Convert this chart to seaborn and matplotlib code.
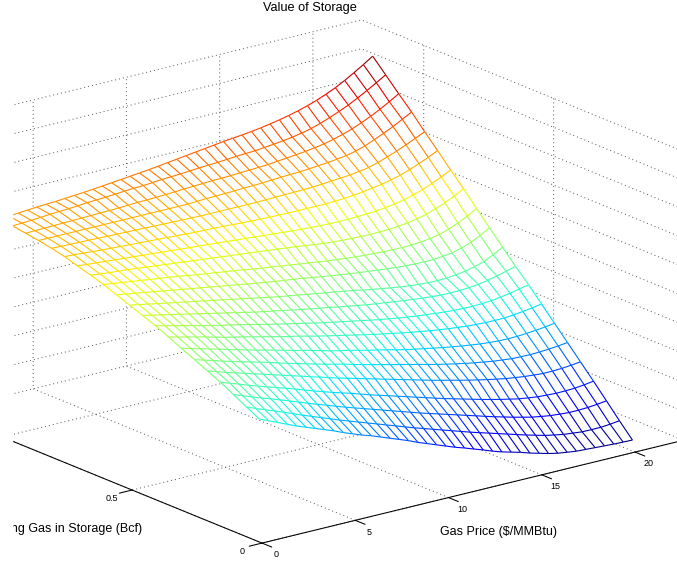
# value_of_storage_mesh.py

import numpy as np
import seaborn as sns
import matplotlib
matplotlib.use("Agg")
import matplotlib.pyplot as plt
from matplotlib.colors import Normalize
from matplotlib.patches import Rectangle
from mpl_toolkits.mplot3d.art3d import Line3DCollection

# Gas price ($/MMBtu), one entry per mesh column
gas_price = [0, 0.5, 1, 1.5, 2, 2.5, 3, 3.5, 4, 4.5, 5, 5.5, 6, 6.5, 7, 7.5, 8, 8.5, 9, 9.5, 10,
             10.5, 11, 11.5, 12, 12.5, 13, 13.5, 14, 14.5, 15, 15.5, 16, 16.5, 17, 17.5, 18, 18.5, 19, 19.5, 20]
# Remaining gas in storage (Bcf), one entry per mesh row
gas_storage = [0.01, 0.06, 0.11, 0.16, 0.21, 0.26, 0.31, 0.36, 0.41, 0.46, 0.51,
               0.56, 0.61, 0.66, 0.71, 0.76, 0.81, 0.86, 0.91, 0.96, 1.01]

# Value, one list per storage level
z_00 = [123,119,115,111,107,103.5,100,96.5,93,89,85.5,82,79,75.5,72,68.5,65,61,57.5,54,50.5,47,44,40.7,37.5,34,31,28.5,26,23,20.5,18,16,14.7,13.5,13,12.5,12,11.5,11.2,11]
z_01 = [130,126,122.5,119,115.5,111.7,108,104.5,101,97.5,94,90.7,87.5,84.2,81,77.7,74.5,71.2,68,65,62,59,56,53,50,47.2,44.5,41.7,39,36.2,33.5,31,28.5,26.7,25,24,23,22.9,23,23.8,25]
z_02 = [137,133.5,130,126.7,123.5,120.2,117,113.5,110,106.7,103.5,100.2,97,94,91,88,85,82,79,76,73,70.2,67.5,64.7,62,59.2,56.5,53.7,51,48.5,46,43.7,41.5,39.9,38.5,37.7,37,37.1,37.5,38.4,39.6]
z_03 = [144,140.7,137.5,134.2,131,128,125,122,119,115.7,112.5,109.5,106.5,103.7,101,98,95,92.2,89.5,86.7,84,81.2,78.5,75.7,73,70.5,68,65.5,63,60.7,58.5,56.5,54.5,53.2,52,51.4,51,51.1,51.5,52.6,54]
z_04 = [150,147,144,141.2,138.5,135.7,133,130.2,127.5,124.7,122,119.2,116.5,113.7,111,108.5,106,103.5,101,98.5,96,93.5,91,88.5,86,83.7,81.5,79.2,77,75,73,71.2,69.5,68.2,67,66.2,65.5,65.6,66,66.9,68]
z_05 = [156,153.2,150.5,147.7,145,142.5,140,137.5,135,132.2,129.5,127,124.5,122,119.5,117.2,115,112.5,110,107.7,105.5,103.2,101,98.7,96.5,94.2,92,90,88,86.2,84.5,83,81.5,80.5,79.5,79.2,79,79.4,80,80.9,82]
z_06 = [162,159.5,157,154.5,152,149.5,147,144.5,142,139.7,137.5,135,132.5,130.2,128,125.5,123,121,119,116.7,114.5,112.5,110.5,108.2,106,104.2,102.5,100.7,99,97.5,96,94.7,93.5,92.7,92,91.9,92,92.7,93.5,94.6,96]
z_07 = [168,165.7,163.5,161.2,159,156.5,154,152,150,147.7,145.5,143.2,141,139,137,134.7,132.5,130.5,128.5,126.5,124.5,122.5,120.5,118.7,117,115.2,113.5,112,110.5,109.2,108,107,106,105.5,105,104.9,105,105.9,107,108.4,110]
z_08 = [174,171.7,169.5,167.2,165,162.7,160.5,158.5,156.5,154.5,152.5,150.2,148,146,144,142,140,138,136,134.2,132.5,130.7,129,127.2,125.5,124,122.5,121.2,120,119,118,117.2,116.5,116.2,116,116.4,117,118.4,120,121.9,124]
z_09 = [179,177,175,173,171,169,167,165,163,161,159,157,155,153.2,151.5,149.7,148,146.2,144.5,143,141.5,139.7,138,136.5,135,133.7,132.5,131.2,130,129,128,127.2,126.5,126.4,126.5,127.1,128,129.8,132,134.4,137]
z_10 = [184,182.2,180.5,178.7,177,175.2,173.5,171.7,170,168.2,166.5,164.7,163,161.2,159.5,157.7,156,154.5,153,151.5,150,148.5,147,145.5,144,142.2,140.5,139,137.5,136.2,135,134.2,133.5,133.4,133.5,134.6,136,138.2,141,145.6,151]
z_11 = [189,187.5,186,184.5,183,181.5,180,178.5,177,175.5,174,172.5,171,169.5,168,166.5,165,163.7,162.5,161.2,160,158.5,157,155.7,154.5,153.2,152,151,150,149,148,147.4,147,146.9,147,147.8,149,151.6,155,159.6,165]
z_12 = [194,192.7,191.5,190.2,189,187.7,186.5,185.2,184,182.5,181,179.7,178.5,177.2,176,174.5,173,171.7,170.5,169.2,168,166.7,165.5,164.2,163,162,161,160.2,159.5,159,158.5,158.2,158,158.4,159,160.3,162,165.1,169,173.6,179]
z_13 = [198,197,196,195.2,194.5,193.5,192.5,191.5,190.5,189.5,188.5,187.5,186.5,185.5,184.5,183.5,182.5,181.5,180.5,179.5,178.5,177.5,176.5,175.2,174,173,172,171.5,171,170.7,170.5,170.7,171,171.9,173,174.8,177,180.2,184,188.5,193.5]
z_14 = [202,201.2,200.5,199.7,199,198.2,197.5,196.7,196,195.2,194.5,193.7,193,192.2,191.5,190.7,190,189.2,188.5,187.7,187,186.2,185.5,184.7,184,183.5,183,182.7,182.5,182.7,183,183.4,184,185.1,186.5,188.6,191,194.2,198,202.2,207]
z_15 = [206,205.5,205,204.2,203.5,203,202.5,202,201.5,201,200.5,200,199.5,199,198.5,198.2,198,197.5,197,196.5,196,195.7,195.5,195.2,195,195,195,195,195,195.4,196,196.9,198,199.4,201,203,205.5,208.8,212.5,216.6,221]
z_16 = [209,208.7,208.5,208.2,208,207.7,207.5,207.2,207,206.7,206.5,206.2,206,205.7,205.5,205.2,205,205,205,205,205,205,205,205.2,205.5,205.7,206,206.2,206.5,207.2,208,208.7,209.5,210.8,212.5,215.2,218.5,222,226,230.2,234.6]
z_17 = [211.5,211.5,211.5,211.5,211.5,211.5,211.5,211.5,211.5,211.5,211.5,211.5,211.5,211.5,211.5,211.5,211.5,212,212.5,212.7,213,213.4,213.7,214.1,214.5,215.1,215.7,216.1,216.5,217.2,218,218.9,220,221.4,223.5,226.5,230.5,234.5,239,244,249]
z_18 = [213.5,213.7,214,214.2,214.5,214.7,215,215.2,215.5,215.7,216,216.5,217,217.2,217.5,218,218.5,219,219.5,220,220.5,220.7,221,221.5,222,222.5,223,224,225,226,227,228.4,230,232.3,235,238.2,242,246.3,251,256.3,262]
z_19 = [215.5,216,216.5,217.2,218,218.5,219,219.7,220.5,221,221.5,222.2,223,223.5,224,224.7,225.5,226,226.5,227.2,228,228.5,229,229.7,230.5,231,231.5,232.5,233.5,234.7,236,237.8,240,243,246.5,250.3,254.5,259.3,264.5,270,275.6]
z_20 = [217,217.7,218.5,219.2,220,220.5,221,221.7,222.5,223.2,224,225,226,227,228,229,230,231.2,232.5,233.7,235,236.2,237.5,238.7,240,241,242,243.2,244.5,246.2,248,250.1,252.5,255.3,258.5,262.3,266.5,271.5,277,282.8,289]

x_ticks = [0, 5, 10, 15, 20]
y_ticks = [0, 0.5, 1]
y_tick_labels = ["0", "0.5"]
z_ticks = [0, 28.9, 57.8, 86.7, 115.6, 144.5, 173.4, 202.3, 231.2, 260.1, 289]

W, H = 677, 562

sns.set_theme(style="white", rc={
    "grid.color": "#555555",
    "grid.linestyle": (0, (1, 3.1)),
    "grid.linewidth": 0.7,
    "axes.edgecolor": "black",
    "axes.linewidth": 0.75,
    "xtick.color": "black",
    "ytick.color": "black",
})
plt.rcParams["font.family"] = ["Liberation Sans", "DejaVu Sans"]

# Step 1: axes, bigger than the figure so the box runs off both sides
fig = plt.figure(figsize=(W / 100, H / 100), dpi=100)
size = 785
ax = fig.add_axes([-91.4 / W, -122.6 / H, size / W, size / H], projection="3d", computed_zorder=False)
ax.set_proj_type("ortho")
ax.view_init(elev=18.4, azim=-127.7)
ax.set_box_aspect((533, 527, 304.5))
ax.set_xlim(0, 22.6, view_margin=0)
ax.set_ylim(0, 1.24, view_margin=0)
ax.set_zlim(0, 289, view_margin=0)

for axis in (ax.xaxis, ax.yaxis, ax.zaxis):
    axis.pane.fill = False
    axis.pane.set_edgecolor("none")
    # on this view the inward factor is the one that points away from the box
    axis._axinfo["tick"]["inward_factor"] = 0.38
    axis._axinfo["tick"]["outward_factor"] = 0
    axis._axinfo["tick"]["linewidth"] = {True: 0.75, False: 0.75}

ax.set_xticks(x_ticks)
ax.set_xticklabels([])
ax.set_yticks(y_ticks)
ax.set_yticklabels([])
ax.set_zticks(z_ticks)
ax.set_zticklabels([])

# tick labels sit just off the tick ends, the native ones land too far away
for t in x_ticks:
    ax.text(t, -0.054, -6, str(t), ha="center", va="center", fontsize=6.5, color="black")
for t, lab in zip(y_ticks, y_tick_labels):
    ax.text(-1.07, t, -3.5, lab, ha="center", va="center", fontsize=6.5, color="black")

# Step 2: mesh, white faces hide the grid and the edges carry the colours
X, Y = np.meshgrid(gas_price, gas_storage)
Z = np.array([z_00, z_01, z_02, z_03, z_04, z_05, z_06, z_07, z_08, z_09, z_10,
              z_11, z_12, z_13, z_14, z_15, z_16, z_17, z_18, z_19, z_20])
ax.plot_surface(X, Y, Z, color="white", shade=False, rstride=1, cstride=1, linewidth=0, zorder=2)

pts = np.stack([X, Y, Z], axis=-1)
segs = np.concatenate([
    np.stack([pts[:, :-1], pts[:, 1:]], axis=2).reshape(-1, 2, 3),
    np.stack([pts[:-1, :], pts[1:, :]], axis=2).reshape(-1, 2, 3),
])
# seaborn refuses to hand out jet by name
cmap = plt.get_cmap("jet")
norm = Normalize(Z.min(), Z.max())
ax.add_collection3d(Line3DCollection(segs, colors=cmap(norm(segs[:, :, 2].mean(axis=1))), linewidths=0.8, zorder=3))

# Step 3: titles placed by hand, the left margin cuts the storage label
fig.text(310 / W, 1 - 8 / H, "Value of Storage", ha="center", va="center", fontsize=9.2, color="black")
fig.text(498 / W, 1 - 532 / H, "Gas Price ($/MMBtu)", ha="center", va="center", fontsize=9, color="black")
fig.text(142 / W, 1 - 529 / H, "Remaining Gas in Storage (Bcf)", ha="right", va="center", fontsize=9, color="black")
fig.add_artist(Rectangle((0, 0), 12 / W, 1, transform=fig.transFigure, color="white", zorder=10))

fig.savefig("out.png", dpi=100)
